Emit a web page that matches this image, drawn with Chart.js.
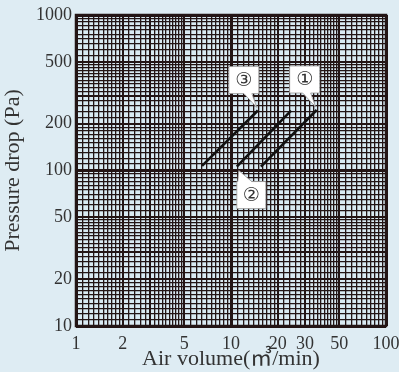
<!DOCTYPE html>
<html>
<head>
<meta charset="utf-8">
<script src="https://cdn.jsdelivr.net/npm/chart.js@4"></script>
<style>
  html, body { margin: 0; padding: 0; background: #deecf3; }
  #wrap { width: 399px; height: 372px; }
</style>
</head>
<body>
<div id="wrap"><canvas id="dropChart" width="399" height="372"></canvas></div>
<script>
// values (log-log)
const xLabels = [1, 2, 5, 10, 20, 30, 50, 100];
const yLabels = [10, 20, 50, 100, 200, 500, 1000];
const line1 = [{x: 15.6, y: 106}, {x: 35.7, y: 245}];
const line2 = [{x: 10.9, y: 106}, {x: 24.4, y: 243}];
const line3 = [{x: 6.5, y: 107}, {x: 14.9, y: 243}];
const seriesNames = ['①', '②', '③'];

// log graph paper rulings within one decade
function paperLines(from, to) {
    const out = [];
    for (let d = from; d < to; d *= 10) {
        for (let v = 1; v < 2; v += 0.1) out.push(+(v * d).toPrecision(3));
        for (let v = 2; v < 5; v += 0.2) out.push(+(v * d).toPrecision(3));
        for (let v = 5; v < 10; v += 0.5) out.push(+(v * d).toPrecision(3));
    }
    out.push(to);
    return out;
}

function gridWidth(v) {
    const m = v / Math.pow(10, Math.floor(Math.log10(v) + 1e-9));
    const r = Math.round(m * 100) / 100;
    if (r === 1) return 3;
    if (r === 2 || r === 3 || r === 5) return 2;
    return 1.3;
}

const calloutPlugin = {
    id: 'callouts',
    afterDatasetsDraw(chart) {
        const ctx = chart.ctx;
        const xs = chart.scales.x, ys = chart.scales.y;
        // dataset, point index, box offsets from that point, tail base
        const defs = [
            {ds: 0, pt: 1, l: -27, r: 3, t: -44, b: -17, tail: [-14, -6]},
            {ds: 2, pt: 1, l: -29, r: 1, t: -44, b: -17, tail: [-14, -6]},
            {ds: 1, pt: 0, l: 0, r: 29, t: 15, b: 42, tail: [1, 9]}
        ];
        ctx.save();
        defs.forEach(d => {
            const p = chart.data.datasets[d.ds].data[d.pt];
            const ax = xs.getPixelForValue(p.x);
            const ay = ys.getPixelForValue(p.y);
            const L = ax + d.l, R = ax + d.r, T = ay + d.t, B = ay + d.b;
            ctx.fillStyle = '#ffffff';
            ctx.strokeStyle = '#9a9a9a';
            ctx.lineWidth = 0.8;
            ctx.beginPath();
            if (d.t < 0) {
                ctx.moveTo(L, T); ctx.lineTo(R, T); ctx.lineTo(R, B);
                ctx.lineTo(ax + d.tail[1], B);
                ctx.lineTo(ax - 1, ay - 3);
                ctx.lineTo(ax + d.tail[0], B);
                ctx.lineTo(L, B); ctx.closePath();
            } else {
                ctx.moveTo(L, T);
                ctx.lineTo(ax + d.tail[0], T);
                ctx.lineTo(ax + 2, ay + 4);
                ctx.lineTo(ax + d.tail[1] + 6, T);
                ctx.lineTo(R, T); ctx.lineTo(R, B); ctx.lineTo(L, B); ctx.closePath();
            }
            ctx.fill();
            ctx.stroke();
            ctx.fillStyle = '#333333';
            ctx.font = '19px "DejaVu Sans"';
            ctx.textAlign = 'center';
            ctx.textBaseline = 'middle';
            ctx.fillText(seriesNames[d.ds], (L + R) / 2, (T + B) / 2 + 1);
        });
        ctx.restore();
    }
};

const areaPlugin = {
    id: 'areaBg',
    beforeDraw(chart) {
        const a = chart.chartArea, ctx = chart.ctx;
        ctx.save();
        ctx.fillStyle = '#d9eaf2';
        ctx.fillRect(a.left, a.top, a.right - a.left, a.bottom - a.top);
        ctx.restore();
    },
    afterDraw(chart) {
        const a = chart.chartArea, ctx = chart.ctx;
        ctx.save();
        ctx.strokeStyle = '#231515';
        ctx.lineWidth = 2.5;
        ctx.strokeRect(a.left, a.top, a.right - a.left, a.bottom - a.top);
        ctx.restore();
    }
};

const tickFont = {family: '"Liberation Serif", "DejaVu Serif", serif', size: 18};
const titleFont = {family: '"Liberation Serif", "Noto Sans CJK JP", serif', size: 22};

const ctx = document.getElementById('dropChart').getContext('2d');
new Chart(ctx, {
    type: 'scatter',
    data: {
        datasets: [line1, line2, line3].map((pts, i) => ({
            label: seriesNames[i],
            data: pts,
            showLine: true,
            borderColor: '#111111',
            borderWidth: 2.6,
            pointRadius: 0
        }))
    },
    options: {
        responsive: false,
        animation: false,
        layout: {padding: {top: 15, right: 13, left: 0, bottom: 0}},
        plugins: {legend: {display: false}, tooltip: {enabled: false}},
        scales: {
            x: {
                type: 'logarithmic',
                min: 1, max: 100,
                afterBuildTicks(s) { s.ticks = paperLines(1, 100).map(v => ({value: v})); },
                afterFit(s) { s.height = 46; s.paddingLeft = 0; s.paddingRight = 0; },
                grid: {
                    color: '#231515',
                    lineWidth: c => gridWidth(c.tick.value),
                    drawTicks: false
                },
                border: {display: false},
                ticks: {
                    autoSkip: false, maxRotation: 0, padding: 7,
                    color: '#333333', font: tickFont,
                    callback: v => xLabels.includes(v) ? String(v) : ''
                },
                title: {display: true, text: 'Air volume(㎥/min)', color: '#333333', font: titleFont, padding: {top: -5, bottom: 0}}
            },
            y: {
                type: 'logarithmic',
                min: 10, max: 1000,
                afterBuildTicks(s) { s.ticks = paperLines(10, 1000).map(v => ({value: v})); },
                afterFit(s) { s.width = 76; s.paddingTop = 0; s.paddingBottom = 0; },
                grid: {
                    color: '#231515',
                    lineWidth: c => gridWidth(c.tick.value),
                    drawTicks: false
                },
                border: {display: false},
                ticks: {
                    autoSkip: false, padding: 4,
                    color: '#333333', font: tickFont,
                    callback: v => yLabels.includes(v) ? String(v) : ''
                },
                title: {display: true, text: 'Pressure drop (Pa)', color: '#333333', font: titleFont, padding: {top: 0, bottom: 0}}
            }
        }
    },
    plugins: [areaPlugin, calloutPlugin]
});
</script>
</body>
</html>
